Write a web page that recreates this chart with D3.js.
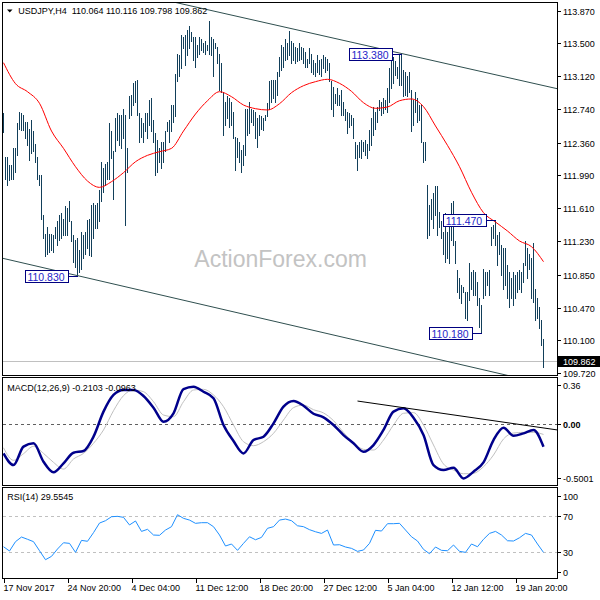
<!DOCTYPE html>
<html>
<head>
<meta charset="utf-8">
<script src="https://cdn.jsdelivr.net/npm/d3@7"></script>
<style>
body { margin: 0; background: #fff; }
svg text { font-family: "Liberation Sans", Arial, sans-serif; }
</style>
</head>
<body>
<div id="chart"></div>
<script>
// USDJPY H4 bars, 17 Nov 2017 12:00 onwards (one value per bar)
const highs = [
112.70,112.20,112.20,112.10,112.10,112.30,112.30,112.58,112.71,112.70,
112.68,112.60,112.60,112.52,112.62,112.49,112.35,112.20,111.99,111.99,
111.53,111.32,111.40,111.32,111.32,111.30,111.40,111.46,111.53,111.55,
111.49,111.63,111.61,111.69,111.46,111.30,111.25,111.27,111.13,111.34,
111.30,111.34,111.47,111.49,111.65,111.67,111.65,111.67,111.82,112.14,
112.07,112.12,112.14,112.58,112.49,112.26,112.64,112.70,112.68,112.68,
112.75,112.68,112.30,112.89,112.91,113.04,113.06,113.08,112.70,112.64,
112.58,112.70,112.70,112.85,112.87,112.62,112.47,112.39,112.30,112.37,
112.37,112.49,112.60,112.62,112.79,112.79,113.15,113.38,113.36,113.59,
113.57,113.59,113.65,113.69,113.63,113.57,113.57,113.48,113.57,113.55,
113.50,113.52,113.48,113.75,113.57,113.55,113.50,113.46,113.38,113.27,
112.94,112.83,112.89,112.87,112.83,112.71,112.43,112.41,112.37,112.28,
112.33,112.75,112.75,112.83,112.75,112.73,112.71,112.64,112.68,112.66,
112.64,112.68,112.81,113.06,113.08,113.08,113.08,113.17,113.34,113.48,
113.46,113.55,113.50,113.64,113.52,113.50,113.46,113.44,113.50,113.46,
113.44,113.40,113.32,113.44,113.38,113.31,113.27,113.36,113.31,113.32,
113.36,113.34,113.32,113.27,113.06,113.00,112.92,112.98,112.91,112.96,
112.83,112.75,112.71,112.70,112.68,112.64,112.37,112.33,112.37,112.39,
112.37,112.39,112.35,112.50,112.64,112.77,112.71,112.77,112.85,112.83,
112.87,112.85,112.98,113.21,113.32,113.34,113.29,113.23,113.36,113.38,
113.19,113.17,113.12,113.17,112.96,112.85,112.94,112.87,112.79,112.79,
112.37,112.37,111.88,111.65,111.72,111.78,111.86,111.86,111.57,111.46,
111.34,111.55,111.34,111.42,111.67,111.69,111.23,110.90,110.81,110.73,
110.71,110.65,110.65,110.98,110.88,110.90,110.88,110.77,110.58,110.50,
110.92,110.88,110.88,110.90,111.40,111.42,111.47,111.30,111.34,111.19,
111.15,111.15,110.96,110.88,110.81,110.88,110.85,110.88,110.90,110.88,
110.98,111.23,111.15,111.09,111.04,111.21,110.69,110.58,110.48,110.33,
110.116
];
const lows = [
112.48,111.95,111.88,111.93,111.95,111.95,112.03,112.22,112.52,112.50,
112.50,112.41,112.33,112.16,112.24,112.26,112.14,111.95,111.88,111.49,
111.27,111.06,111.09,111.11,111.13,111.11,111.27,111.19,111.25,111.27,
111.30,111.30,111.30,111.46,111.23,111.00,110.94,110.83,110.88,110.92,
111.04,111.09,111.15,111.07,111.06,111.27,111.38,111.38,111.46,111.69,
111.80,111.88,111.95,111.95,112.18,111.72,112.26,112.39,112.33,112.30,
112.41,111.42,112.03,112.64,112.68,112.79,112.83,112.68,112.37,112.43,
112.37,112.49,112.41,112.56,112.49,112.37,111.99,112.03,112.14,112.07,
112.14,112.26,112.49,112.37,112.49,112.60,112.66,113.06,113.12,113.21,
113.44,113.25,113.36,113.44,113.52,113.31,113.23,113.34,113.38,113.42,
113.40,113.38,113.42,113.38,113.36,113.12,113.44,113.27,112.96,112.94,
112.45,112.56,112.64,112.54,112.56,112.41,112.05,112.20,112.14,112.03,
112.10,112.22,112.45,112.47,112.60,112.56,112.41,112.31,112.45,112.52,
112.50,112.62,112.66,112.75,112.83,112.87,112.83,112.91,113.12,113.19,
113.23,113.31,113.32,113.36,113.27,113.31,113.27,113.29,113.31,113.32,
113.27,113.23,113.23,113.27,113.17,113.15,113.12,113.17,113.15,113.12,
113.21,113.17,113.19,113.06,112.75,112.66,112.81,112.79,112.79,112.68,
112.68,112.62,112.47,112.54,112.56,112.41,112.18,112.05,112.20,112.18,
112.26,112.22,112.18,112.28,112.33,112.45,112.52,112.60,112.73,112.68,
112.70,112.75,112.71,112.83,112.98,113.04,113.13,113.10,113.02,113.02,
112.89,112.91,112.89,112.94,112.49,112.56,112.71,112.60,112.62,112.37,
112.14,112.16,111.27,111.30,111.49,111.38,111.53,111.30,111.40,111.27,
111.09,111.00,111.04,110.98,111.25,111.19,110.98,110.65,110.58,110.52,
110.65,110.35,110.33,110.56,110.69,110.62,110.62,110.50,110.25,110.18,
110.58,110.62,110.73,110.62,111.19,111.27,111.19,110.96,111.09,110.85,
110.69,110.73,110.58,110.48,110.58,110.50,110.58,110.65,110.69,110.65,
110.77,110.96,110.81,110.92,110.58,110.54,110.33,110.35,110.24,110.04,
109.798
];

// red moving average, one value every 6 bars
const maStep = 6;
const maValues = [
113.275,113.035,112.943,112.810,112.493,112.295,112.085,111.921,111.849,111.914,
112.017,112.142,112.215,112.257,112.295,112.493,112.688,112.840,112.943,112.886,
112.791,112.749,112.734,112.806,112.932,113.012,113.058,113.085,113.039,112.947,
112.817,112.753,112.768,112.840,112.860,112.772,112.551,112.329,112.085,111.792,
111.559,111.452,111.349,111.235,111.170,110.998
];

// MACD(12,26,9), one value every 5 bars
const macdStep = 5;
const macdMain = [
-0.271,-0.379,-0.209,-0.178,-0.348,-0.446,-0.363,-0.265,-0.249,-0.117,
0.114,0.268,0.314,0.314,0.259,0.151,0.021,0.099,0.323,0.345,
0.298,0.237,-0.009,-0.157,-0.271,-0.148,-0.117,0.006,0.160,0.212,
0.169,0.095,0.062,-0.009,-0.102,-0.178,-0.256,-0.194,-0.055,0.114,
0.145,0.058,-0.102,-0.379,-0.425,-0.403,-0.502,-0.440,-0.354,-0.148,
-0.034,-0.108,-0.086,-0.055,-0.2103
];
const macdSignal = [
-0.219,-0.335,-0.274,-0.206,-0.271,-0.354,-0.416,-0.323,-0.271,-0.178,
-0.055,0.123,0.262,0.314,0.298,0.206,0.083,0.068,0.206,0.314,
0.320,0.268,0.160,-0.009,-0.163,-0.200,-0.163,-0.086,0.037,0.151,
0.175,0.132,0.102,0.031,-0.077,-0.172,-0.234,-0.240,-0.148,-0.009,
0.099,0.105,-0.009,-0.194,-0.369,-0.425,-0.459,-0.455,-0.394,-0.286,
-0.138,-0.083,-0.077,-0.077,-0.0963
];

// RSI(14), one value every 3 bars
const rsiStep = 3;
const rsiValues = [
35.8,31.1,41.4,46.5,44.0,41.4,31.4,21.5,25.2,33.3,
40.2,39.5,29.6,42.8,41.8,51.3,61.9,64.5,68.9,69.3,
68.2,59.8,64.2,52.7,55.0,48.7,48.4,54.2,57.9,71.1,
67.1,65.2,61.6,62.3,62.3,57.9,48.7,36.6,38.8,31.8,
39.5,46.8,43.5,46.1,56.1,57.9,65.2,66.3,64.5,58.9,
57.9,54.6,52.3,50.5,54.2,37.7,38.0,35.5,34.0,30.7,
32.2,39.5,53.9,53.1,61.2,61.2,61.6,54.2,46.8,42.1,
32.9,28.1,35.5,31.8,31.4,37.7,30.7,29.6,38.8,35.8,
44.0,50.5,52.7,48.7,42.4,42.1,45.7,50.5,48.7,38.8,
29.55
];

// channel and MACD trend lines (bar index, value)
const upperLineBars = [136, 276];
const upperLinePrices = [113.706, 112.982];
const lowerLineBars = [0, 249];
const lowerLinePrices = [111.035, 109.713];
const macdLineBars = [177, 277];
const macdLineValues = [0.212, -0.055];

// swing labels
const swingBars = [37, 199, 246, 239];
const swingPrices = [110.830, 113.380, 111.470, 110.180];

// axis labels
const priceTicks = [113.870, 113.500, 113.120, 112.740, 112.360, 111.990, 111.610, 111.230, 110.850, 110.470, 110.100, 109.720];
const macdTicks = [0.36, 0.00, -0.5001];
const macdTickText = ["0.36", "0.00", "-0.5001"];
const rsiTicks = [100, 70, 30, 0];
const rsiLevels = [70, 30];
const dateBars = [0, 32, 64, 96, 128, 160, 192, 224, 256];
const dateLabels = ["17 Nov 2017", "24 Nov 20:00", "4 Dec 04:00", "11 Dec 12:00", "18 Dec 20:00", "27 Dec 12:00", "5 Jan 04:00", "12 Jan 12:00", "19 Jan 20:00"];

const lastPrice = 109.862;
const title = "USDJPY,H4  110.064 110.116 109.798 109.862";
const macdTitle = "MACD(12,26,9) -0.2103 -0.0963";
const rsiTitle = "RSI(14) 29.5545";

const W = 600, H = 600;
const left = 3, right = 557;
const main = {top: 3, bottom: 376};
const macdP = {top: 378, bottom: 486};
const rsiP = {top: 488, bottom: 579};

const svg = d3.select("#chart").append("svg")
    .attr("width", W)
    .attr("height", H);

svg.append("rect").attr("width", W).attr("height", H).attr("fill", "#fff");

let x = d3.scaleLinear().domain([0, highs.length - 1]).range([3.5, 3.5 + 2 * (highs.length - 1)]);
let y = d3.scaleLinear().domain([109.72, 113.87]).range([373.4, 10.7]);
let ym = d3.scaleLinear().domain([-0.5001, 0.36]).range([478.2, 385]);
let yr = d3.scaleLinear().domain([0, 100]).range([579.2, 488.5]);

function clip(id, p) {
    svg.append("clipPath").attr("id", id)
        .append("rect").attr("x", left).attr("y", p.top).attr("width", right - left).attr("height", p.bottom - p.top);
}
clip("clip-main", main);
clip("clip-macd", macdP);
clip("clip-rsi", rsiP);

// line through two anchors, stretched over the whole panel width
function stretched(bars, vals, scale) {
    let slope = (vals[1] - vals[0]) / (bars[1] - bars[0]);
    let b0 = x.invert(left), b1 = x.invert(right);
    return [[left, scale(vals[0] + slope * (b0 - bars[0]))], [right, scale(vals[0] + slope * (b1 - bars[0]))]];
}

// ---------- main panel ----------
let gMain = svg.append("g").attr("clip-path", "url(#clip-main)");

gMain.append("text")
    .attr("x", 194.3).attr("y", 266.7)
    .attr("font-size", "23px")
    .attr("fill", "#c3c3c3")
    .text("ActionForex.com");

gMain.append("line")
    .attr("x1", left).attr("x2", right)
    .attr("y1", Math.round(y(lastPrice)) + 0.5).attr("y2", Math.round(y(lastPrice)) + 0.5)
    .attr("stroke", "#c0c0c0");

gMain.append("g")
    .selectAll("line")
    .data(d3.range(highs.length))
    .enter()
    .append("line")
    .attr("x1", (i) => x(i)).attr("x2", (i) => x(i))
    .attr("y1", (i) => Math.round(y(highs[i])))
    .attr("y2", (i) => Math.round(y(lows[i])) + 1)
    .attr("stroke", "#123f5a")
    .attr("stroke-width", 1)
    .attr("shape-rendering", "crispEdges");

gMain.append("path")
    .datum(maValues)
    .attr("fill", "none")
    .attr("stroke", "#ff0000")
    .attr("stroke-width", 1)
    .attr("d", d3.line().x((d, k) => x(k * maStep)).y((d) => y(d)).curve(d3.curveMonotoneX));

[[upperLineBars, upperLinePrices], [lowerLineBars, lowerLinePrices]].forEach(function(t) {
    let pts = stretched(t[0], t[1], y);
    gMain.append("line")
        .attr("x1", pts[0][0]).attr("y1", pts[0][1])
        .attr("x2", pts[1][0]).attr("y2", pts[1][1])
        .attr("stroke", "#2f4f4f").attr("stroke-width", 1);
});

// swing price labels
swingBars.forEach(function(b, k) {
    let py = Math.round(y(swingPrices[k])) + 0.5;
    let bx = x(b);
    let boxR = bx - 10, boxW = 43;
    gMain.append("line")
        .attr("x1", boxR).attr("x2", bx + 0.5)
        .attr("y1", py).attr("y2", py)
        .attr("stroke", "#000080");
    gMain.append("rect")
        .attr("x", Math.round(boxR - boxW) + 0.5).attr("y", py - 6)
        .attr("width", boxW).attr("height", 12)
        .attr("fill", "#fff").attr("stroke", "#000080");
    gMain.append("text")
        .attr("x", boxR - boxW / 2).attr("y", py + 4)
        .attr("text-anchor", "middle")
        .attr("font-size", "10.5px")
        .attr("fill", "#2323c8")
        .text(swingPrices[k].toFixed(3));
});

svg.append("path")
    .attr("d", "M7,9.5 L12.5,9.5 L9.75,12.5 Z")
    .attr("fill", "#000");
svg.append("text")
    .attr("x", 18.3).attr("y", 14)
    .attr("font-size", "9px")
    .attr("fill", "#000")
    .attr("xml:space", "preserve")
    .style("white-space", "pre")
    .text(title);

// ---------- MACD panel ----------
let gMacd = svg.append("g").attr("clip-path", "url(#clip-macd)");

gMacd.append("line")
    .attr("x1", left).attr("x2", right)
    .attr("y1", Math.round(ym(0)) + 0.5).attr("y2", Math.round(ym(0)) + 0.5)
    .attr("stroke", "#606060").attr("stroke-dasharray", "3,3");

gMacd.append("path")
    .datum(macdSignal)
    .attr("fill", "none")
    .attr("stroke", "#c0c0c0")
    .attr("stroke-width", 1)
    .attr("d", d3.line().x((d, k) => x(k * macdStep)).y((d) => ym(d)).curve(d3.curveMonotoneX));

gMacd.append("path")
    .datum(macdMain)
    .attr("fill", "none")
    .attr("stroke", "#00008b")
    .attr("stroke-width", 2.5)
    .attr("d", d3.line().x((d, k) => x(k * macdStep)).y((d) => ym(d)).curve(d3.curveMonotoneX));

let mPts = [[x(macdLineBars[0]), ym(macdLineValues[0])], [x(macdLineBars[1]), ym(macdLineValues[1])]];
gMacd.append("line")
    .attr("x1", mPts[0][0]).attr("y1", mPts[0][1])
    .attr("x2", mPts[1][0]).attr("y2", mPts[1][1])
    .attr("stroke", "#000").attr("stroke-width", 1);

svg.append("text")
    .attr("x", 7.3).attr("y", 391)
    .attr("font-size", "9px")
    .text(macdTitle);

// ---------- RSI panel ----------
let gRsi = svg.append("g").attr("clip-path", "url(#clip-rsi)");

gRsi.selectAll(".lvl")
    .data(rsiLevels)
    .enter()
    .append("line")
    .attr("x1", left).attr("x2", right)
    .attr("y1", (d) => Math.round(yr(d)) + 0.5).attr("y2", (d) => Math.round(yr(d)) + 0.5)
    .attr("stroke", "#c0c0c0").attr("stroke-dasharray", "3,3");

gRsi.append("path")
    .datum(rsiValues)
    .attr("fill", "none")
    .attr("stroke", "#1e90ff")
    .attr("stroke-width", 1)
    .attr("d", d3.line().x((d, k) => x(k * rsiStep)).y((d) => yr(d)));

svg.append("text")
    .attr("x", 7.3).attr("y", 500)
    .attr("font-size", "9px")
    .text(rsiTitle);

// ---------- frames ----------
[main, macdP, rsiP].forEach(function(p) {
    svg.append("rect")
        .attr("x", left - 0.5).attr("y", p.top - 0.5)
        .attr("width", right - left + 1).attr("height", p.bottom - p.top)
        .attr("fill", "none").attr("stroke", "#000");
});

// ---------- right axis ----------
let axisG = svg.append("g").attr("font-size", "9px");

function rightTicks(vals, texts, scale, nudge) {
    vals.forEach(function(v, k) {
        let ty = Math.round(scale(v) + (nudge ? nudge(v) : 0)) + 0.5;
        axisG.append("line")
            .attr("x1", right).attr("x2", right + 4)
            .attr("y1", ty).attr("y2", ty)
            .attr("stroke", "#000");
        axisG.append("text")
            .attr("x", right + 6).attr("y", ty + 3.2)
            .attr("font-weight", texts[k] === "0.00" ? "bold" : "normal")
            .text(texts[k]);
    });
}
rightTicks(priceTicks, priceTicks.map((d) => d.toFixed(3)), y);
rightTicks(macdTicks, macdTickText, ym);
rightTicks(rsiTicks, rsiTicks.map(String), yr, (v) => v === 100 ? 7 : (v === 0 ? -7 : 0));

// current price marker
let ly = Math.round(y(lastPrice));
axisG.append("rect")
    .attr("x", right + 1).attr("y", ly - 5)
    .attr("width", W - right - 1).attr("height", 11)
    .attr("fill", "#000");
axisG.append("text")
    .attr("x", right + 6).attr("y", ly + 3.5)
    .attr("fill", "#fff")
    .text(lastPrice.toFixed(3));

// ---------- time axis ----------
let timeG = svg.append("g").attr("font-size", "9px");
dateBars.forEach(function(b, k) {
    let tx = Math.round(x(b)) + 0.5;
    timeG.append("line")
        .attr("x1", tx).attr("x2", tx)
        .attr("y1", rsiP.bottom).attr("y2", rsiP.bottom + 4)
        .attr("stroke", "#000");
    timeG.append("text")
        .attr("x", tx - 1).attr("y", 591)
        .text(dateLabels[k]);
});
</script>
</body>
</html>
